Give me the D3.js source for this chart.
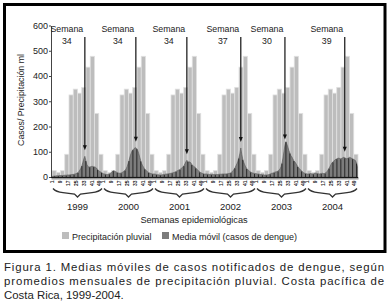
<!DOCTYPE html>
<html>
<head>
<meta charset="utf-8">
<script src="https://cdn.jsdelivr.net/npm/d3@7"></script>
<style>
html,body{margin:0;padding:0;background:#fff;}
svg{display:block;font-family:"Liberation Sans",Arial,sans-serif;}
</style>
</head>
<body>
<svg id="c" width="391" height="308"></svg>
<script>
const years = ["1999","2000","2001","2002","2003","2004"];
const monthlyRain = [25,18,25,90,325,348,332,355,435,478,252,90];
const cases1999 = [3,3,4,4,5,5,5,6,6,6, 6,6,7,7,7,8,8,8,9,9, 10,10,11,12,13,15,18,22,28,35, 45,58,72,82,65,50,42,40,40,41, 42,42,41,40,38,35,30,26,22,20, 18,16];
const cases2000 = [12,12,11,10,10,10,12,14,18,22, 25,24,22,20,18,16,15,15,16,18, 20,23,27,32,40,52,65,80,92,102, 108,112,115,116,112,104,92,78,64,52, 44,38,32,28,24,20,18,16,14,13, 12,12];
const cases2001 = [12,11,10,9,9,8,8,8,9,10, 10,11,12,12,13,13,14,15,16,17, 18,20,22,24,26,28,30,33,36,40, 45,52,60,66,62,58,60,56,50,46, 42,40,36,32,28,24,20,18,16,14, 13,12];
const cases2002 = [12,12,11,11,10,10,10,10,10,10, 10,10,10,10,11,11,11,12,12,12, 12,12,13,13,14,15,17,20,24,30, 36,44,52,62,75,92,115,90,70,58, 48,40,34,30,26,22,20,18,16,15, 14,14];
const cases2003 = [13,12,12,11,10,10,9,9,8,8, 8,8,9,10,12,14,15,16,18,20, 20,22,24,27,32,40,55,75,100,125, 140,130,118,105,95,85,80,72,65,60, 55,48,42,36,32,28,24,20,17,15, 14,13];
const cases2004 = [12,12,13,14,13,12,12,14,16,15, 14,13,12,13,14,15,14,13,15,18, 22,28,35,42,50,56,60,64,68,70, 72,74,75,73,72,74,76,78,76,74, 72,74,76,78,76,74,72,70,68,64, 55,40];
const peakWeeks = [34,34,34,37,30,39];
const yTicks = [0,100,200,300,400,500,600];
const weekLabels = [1,9,17,25,33,41,49];

const cases = [].concat(cases1999,cases2000,cases2001,cases2002,cases2003,cases2004);
const nWeeks = cases.length;

const svg = d3.select("#c");
svg.append("rect").attr("x",0).attr("y",0).attr("width",391).attr("height",308).attr("fill","#fff");

const x = d3.scaleLinear().domain([0,nWeeks]).range([52,358]);
const xm = d3.scaleBand().domain(d3.range(years.length*12)).range([52,358]).paddingInner(0);
const y = d3.scaleLinear().domain([0,600]).range([177,25.5]);

// rain bars
const rain = [];
years.forEach((yr,yi)=>monthlyRain.forEach((v,m)=>rain.push({i:yi*12+m,v})));
svg.append("g").selectAll("rect").data(rain).join("rect")
  .attr("x",d=>xm(d.i)).attr("width",xm.bandwidth())
  .attr("y",d=>y(d.v)).attr("height",d=>y(0)-y(d.v))
  .attr("fill","#bdbdbd").attr("stroke","#e0e0e0").attr("stroke-width",0.8);

// cases area
const area = d3.area().x((d,i)=>x(i+0.5)).y0(y(0)).y1(d=>y(d));
svg.append("path").datum(cases).attr("d",area)
  .attr("fill","#7c7c7c").attr("stroke","#555").attr("stroke-width",0.6);

// vertical black lines inside area
svg.append("g").selectAll("line").data(cases.map((v,i)=>({v,i})).filter(d=>d.i%4===2)).join("line")
  .attr("x1",d=>x(d.i+0.5)).attr("x2",d=>x(d.i+0.5))
  .attr("y1",y(0)).attr("y2",d=>y(d.v)+0.5)
  .attr("stroke","#111").attr("stroke-width",0.8);

// y axis
const ya = svg.append("g").attr("transform","translate(51,0)")
  .call(d3.axisLeft(y).tickValues(yTicks).tickSize(2).tickPadding(1).tickSizeOuter(0));
ya.select(".domain").attr("stroke","#444");
ya.selectAll(".tick line").attr("stroke","#444");
ya.selectAll("text").attr("font-size",9).attr("fill","#222").attr("font-family","Liberation Sans, Arial");

svg.append("text").attr("transform","translate(24,100) rotate(-90)")
  .attr("text-anchor","middle").attr("font-size",8.8).attr("fill","#222")
  .text("Casos/ Precipitación ml");

// x axis baseline + weekly ticks
svg.append("line").attr("x1",51).attr("x2",358).attr("y1",y(0)+0.5).attr("y2",y(0)+0.5)
  .attr("stroke","#111").attr("stroke-width",1);
svg.append("g").selectAll("line").data(d3.range(nWeeks+1)).join("line")
  .attr("x1",d=>x(d)).attr("x2",d=>x(d)).attr("y1",y(0)).attr("y2",y(0)+2.5)
  .attr("stroke","#222").attr("stroke-width",0.5);

// week labels
const wl = [];
years.forEach((yr,yi)=>weekLabels.forEach(w=>wl.push({w,pos:yi*52+w-0.5})));
svg.append("g").selectAll("text").data(wl).join("text")
  .attr("transform",d=>`translate(${x(d.pos)+1.8},${y(0)+3.5}) rotate(-90)`)
  .attr("text-anchor","end").attr("font-size",5).attr("font-weight","bold").attr("fill","#222")
  .text(d=>d.w);

// year braces
const yb = svg.append("g");
years.forEach((yr,yi)=>{
  const x0 = x(yi*52)+1, x1 = x(yi*52+52)-1, xmid = (x0+x1)/2;
  yb.append("path")
    .attr("d",`M${x0},188.5 Q${x0+3},192 ${x0+10},192.6 L${xmid-3},194 L${xmid},197 L${xmid+3},194 L${x1-10},192.6 Q${x1-3},192 ${x1},188.5`)
    .attr("fill","none").attr("stroke","#333").attr("stroke-width",1.3);
  yb.append("text").attr("x",xmid).attr("y",209.5).attr("text-anchor","middle")
    .attr("font-size",9.5).attr("fill","#222").text(yr);
});

svg.append("text").attr("x",194).attr("y",223).attr("text-anchor","middle")
  .attr("font-size",9.2).attr("fill","#222").text("Semanas epidemiológicas");

// arrows and labels
years.forEach((yr,yi)=>{
  const wi = yi*52 + peakWeeks[yi] - 1;
  const xa = x(wi+0.5);
  const tip = y(cases[wi]) - 6;
  svg.append("line").attr("x1",xa).attr("x2",xa).attr("y1",37).attr("y2",tip-3)
    .attr("stroke","#111").attr("stroke-width",1.2);
  svg.append("path").attr("d",`M${xa-2},${tip-5} L${xa+2},${tip-5} L${xa},${tip} Z`).attr("fill","#111");
  svg.append("text").attr("x",xa-18).attr("y",32).attr("text-anchor","middle")
    .attr("font-size",8.8).attr("fill","#222").text("Semana");
  svg.append("text").attr("x",xa-18).attr("y",44).attr("text-anchor","middle")
    .attr("font-size",8.8).attr("fill","#222").text(peakWeeks[yi]);
});

// legend
svg.append("rect").attr("x",62).attr("y",232).attr("width",7).attr("height",7).attr("fill","#bdbdbd");
svg.append("text").attr("x",72).attr("y",239.5).attr("font-size",9).attr("fill","#222").text("Precipitación pluvial");
svg.append("rect").attr("x",162).attr("y",232).attr("width",7).attr("height",7).attr("fill","#7c7c7c");
svg.append("text").attr("x",172).attr("y",239.5).attr("font-size",9).attr("fill","#222").text("Media móvil (casos de dengue)");

// frame
svg.append("rect").attr("x",4.5).attr("y",4.5).attr("width",380.5).attr("height",247)
  .attr("fill","none").attr("stroke","#000").attr("stroke-width",3);

// caption
const cap = svg.append("g").attr("font-size",11.4).attr("fill","#222");
cap.append("text").attr("x",4).attr("y",271).attr("textLength",380).attr("lengthAdjust","spacing")
  .text("Figura 1. Medias móviles de casos notificados de dengue, según");
cap.append("text").attr("x",4).attr("y",285).attr("textLength",380).attr("lengthAdjust","spacing")
  .text("promedios mensuales de precipitación pluvial. Costa pacífica de");
cap.append("text").attr("x",4).attr("y",299).text("Costa Rica, 1999-2004.");
</script>
</body>
</html>
